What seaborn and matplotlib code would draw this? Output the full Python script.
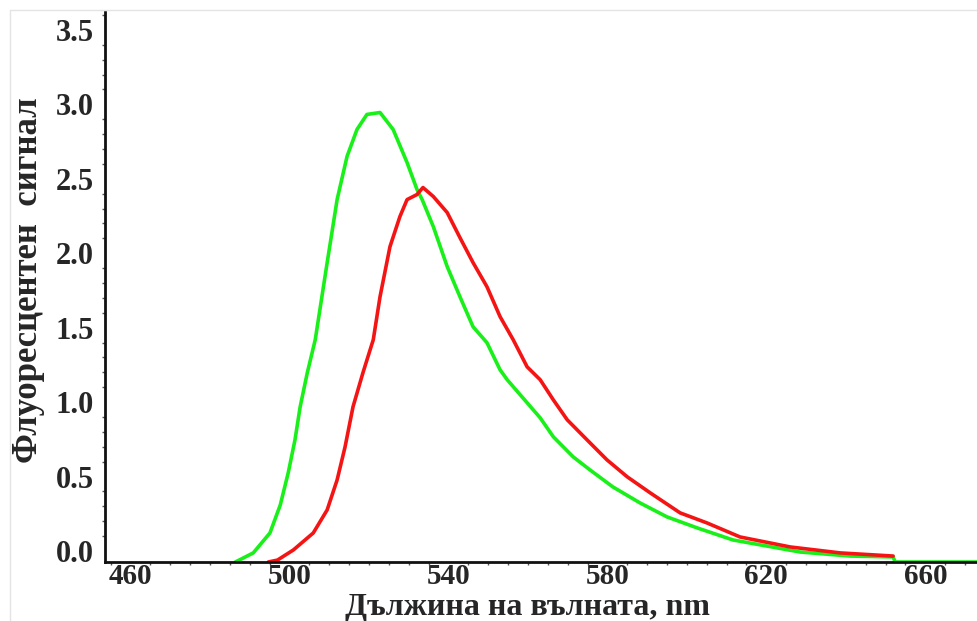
import numpy as np
import pandas as pd
import matplotlib
matplotlib.use("Agg")
import matplotlib.pyplot as plt
from matplotlib.lines import Line2D
from matplotlib.ticker import MultipleLocator
import seaborn as sns

# ---- data ----
green_nm = [486.4, 490.9, 495.1, 497.7, 499.7, 501.4, 502.7, 504.5, 506.5, 509.5,
            512.0, 514.5, 517.0, 519.5, 522.8, 526.1, 529.6, 532.1, 533.4, 536.2,
            539.7, 542.9, 546.2, 549.7, 553.0, 554.8, 563.1, 566.4, 571.4, 575.6,
            581.4, 588.2, 595.0, 602.6, 611.6, 628.5, 641.1, 651.9, 652.4, 673.0]
green_val = [-0.074, -0.013, 0.121, 0.309, 0.525, 0.746, 0.968, 1.197, 1.419, 1.937,
             2.360, 2.650, 2.831, 2.932, 2.945, 2.831, 2.609, 2.428, 2.360, 2.179,
             1.910, 1.708, 1.506, 1.399, 1.217, 1.150, 0.894, 0.767, 0.632, 0.545,
             0.430, 0.323, 0.229, 0.155, 0.074, -0.007, -0.034, -0.040, -0.074, -0.074]

red_nm = [494.7, 497.0, 501.0, 506.0, 509.5, 512.0, 514.0, 516.0, 518.5, 521.1,
          522.8, 525.3, 527.8, 529.6, 532.1, 533.6, 536.2, 539.7, 542.9, 546.2,
          549.7, 553.0, 556.3, 559.8, 563.1, 566.4, 569.9, 574.9, 579.9, 585.0,
          590.8, 598.3, 605.1, 613.4, 626.0, 638.6, 651.9]
red_val = [-0.074, -0.061, 0.007, 0.121, 0.276, 0.477, 0.699, 0.968, 1.197, 1.419,
           1.708, 2.044, 2.246, 2.360, 2.394, 2.441, 2.381, 2.273, 2.105, 1.937,
           1.775, 1.574, 1.419, 1.237, 1.150, 1.015, 0.881, 0.746, 0.612, 0.498,
           0.390, 0.256, 0.188, 0.094, 0.027, -0.013, -0.034]

x_ticks = [460, 500, 540, 580, 620, 660]
y_ticks = [0.0, 0.5, 1.0, 1.5, 2.0, 2.5, 3.0, 3.5]
y_tick_labels = ["0.0", "0.5", "1.0", "1.5", "2.0", "2.5", "3.0", "3.5"]
x_label = "Дължина на вълната, nm"
y_label = "Флуоресцентен  сигнал"

df = pd.concat([
    pd.DataFrame({"nm": green_nm, "signal": green_val, "series": "green"}),
    pd.DataFrame({"nm": red_nm, "signal": red_val, "series": "red"}),
], ignore_index=True)

sns.set_style("white")
plt.rcParams["font.family"] = ["Liberation Serif", "DejaVu Serif"]
plt.rcParams["font.weight"] = "bold"

W, H = 977, 621
fig = plt.figure(figsize=(W / 100, H / 100), dpi=100)
ax = fig.add_axes([105 / W, (H - 562) / H, 872 / W, 550 / H])

sns.lineplot(data=df, x="nm", y="signal", hue="series", sort=False,
             palette={"green": "#19f019", "red": "#f51414"},
             linewidth=2.6, legend=False, ax=ax, estimator=None)

ax.set_xlim(453.6, 673.0)
ax.set_ylim(-0.074, 3.62)
ax.set_xticks(x_ticks)
ax.set_yticks(y_ticks)
ax.set_yticklabels(y_tick_labels)
ax.xaxis.set_minor_locator(MultipleLocator(5))
ax.yaxis.set_minor_locator(MultipleLocator(0.1))
ax.tick_params(axis="x", which="major", length=0, labelsize=21, pad=0.5)
ax.tick_params(axis="y", which="major", length=0, labelsize=22, pad=8)
ax.tick_params(axis="both", which="minor", length=2.5, width=1.0, direction="out", color="#555555")
ax.tick_params(axis="both", which="both", bottom=True, left=True)
for lab in ax.get_xticklabels() + ax.get_yticklabels():
    lab.set_fontweight("bold")

for side in ["top", "right"]:
    ax.spines[side].set_visible(False)
for side in ["left", "bottom"]:
    ax.spines[side].set_linewidth(2.0)
    ax.spines[side].set_color("#111111")

ax.set_xlabel("")
ax.set_ylabel("")
fig.text(527 / W, 1 - 615 / H, x_label, ha="center", va="baseline",
         fontsize=23, fontweight="bold")
fig.text(29 / W, 1 - 280 / H, y_label, ha="center", va="center",
         rotation=90, fontsize=25, fontweight="bold")

# faint frame lines of the original picture
fig.add_artist(Line2D([10 / W, 1.0], [1 - 10 / H, 1 - 10 / H], color="#e4e4e4", lw=1))
fig.add_artist(Line2D([10 / W, 10 / W], [0.0, 1 - 10 / H], color="#e4e4e4", lw=1))

fig.savefig("out.png", dpi=100)
